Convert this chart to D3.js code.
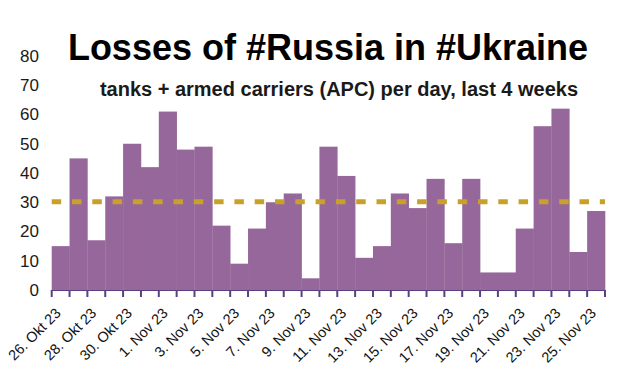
<!DOCTYPE html>
<html>
<head>
<meta charset="utf-8">
<script src="https://cdn.jsdelivr.net/npm/d3@7"></script>
<style>
  body { margin: 0; background: #fff; }
  text { font-family: "Liberation Sans", Arial, sans-serif; }
</style>
</head>
<body>
<div id="chart"></div>
<script>
// days, 26 Okt 23 .. 25 Nov 23
const days = [
  '26. Okt 23', '27. Okt 23', '28. Okt 23', '29. Okt 23', '30. Okt 23', '31. Okt 23',
  '1. Nov 23', '2. Nov 23', '3. Nov 23', '4. Nov 23', '5. Nov 23', '6. Nov 23',
  '7. Nov 23', '8. Nov 23', '9. Nov 23', '10. Nov 23', '11. Nov 23', '12. Nov 23',
  '13. Nov 23', '14. Nov 23', '15. Nov 23', '16. Nov 23', '17. Nov 23', '18. Nov 23',
  '19. Nov 23', '20. Nov 23', '21. Nov 23', '22. Nov 23', '23. Nov 23', '24. Nov 23',
  '25. Nov 23'
]
// tanks + APC lost per day
const losses = [
  15, 45, 17, 32, 50, 42, 61, 48, 49, 22, 9, 21, 30, 33, 4,
  49, 39, 11, 15, 33, 28, 38, 16, 38, 6, 6, 21, 56, 62, 13, 27
]
const yTicks = [0, 10, 20, 30, 40, 50, 60, 70, 80]

const width = 617,
  height = 374
const data = days.map((d, i) => ({ day: d, value: losses[i] }))

const svg = d3.select('#chart').append('svg').attr('width', width).attr('height', height)

const x = d3.scaleBand().domain(days).range([51.7, 605]).padding(0)
const y = d3.scaleLinear().domain([0, 80]).range([290, 56])

// bars
svg
  .append('g')
  .selectAll('rect')
  .data(data)
  .enter()
  .append('rect')
  .attr('x', d => x(d.day))
  .attr('y', d => y(d.value))
  .attr('width', x.bandwidth() + 0.3)
  .attr('height', d => y(0) - y(d.value))
  .attr('fill', '#96679a')

// average line
const avg = d3.mean(losses)
svg
  .append('line')
  .attr('x1', x.range()[0])
  .attr('x2', x.range()[1])
  .attr('y1', y(avg))
  .attr('y2', y(avg))
  .attr('stroke', '#c9a02a')
  .attr('stroke-width', 5)
  .attr('stroke-dasharray', '9.5,10.8')

// y axis, labels only
const yAxis = svg
  .append('g')
  .attr('transform', 'translate(39,0)')
  .call(d3.axisLeft(y).tickValues(yTicks).tickSize(0).tickPadding(0))
yAxis.select('.domain').remove()
yAxis.selectAll('text').attr('font-size', 17).attr('fill', '#1a1a1a').attr('font-family', '"Liberation Sans", Arial, sans-serif')

// x axis: ticks on day boundaries
const xAxis = svg.append('g')
const edges = days.map(d => x(d)).concat([x.range()[1]])
xAxis
  .append('line')
  .attr('x1', x.range()[0])
  .attr('x2', x.range()[1])
  .attr('y1', y(0) + 0.5)
  .attr('y2', y(0) + 0.5)
  .attr('stroke', '#5b3f80')
  .attr('stroke-width', 1)
xAxis
  .selectAll('.tick')
  .data(edges)
  .enter()
  .append('line')
  .attr('x1', d => d)
  .attr('x2', d => d)
  .attr('y1', y(0))
  .attr('y2', y(0) + 7)
  .attr('stroke', '#5b3f80')
  .attr('stroke-width', 2)

xAxis
  .selectAll('.lbl')
  .data(days.filter((d, i) => i % 2 === 0))
  .enter()
  .append('text')
  .attr('transform', d => `translate(${x(d) + x.bandwidth() / 2 + 1},${y(0) + 24}) rotate(-45)`)
  .attr('text-anchor', 'end')
  .attr('font-size', 14.5)
  .attr('fill', '#111')
  .text(d => d)

// titles
svg
  .append('text')
  .attr('x', 328)
  .attr('y', 60)
  .attr('text-anchor', 'middle')
  .attr('font-size', 36)
  .attr('font-weight', 'bold')
  .attr('fill', '#000')
  .text('Losses of #Russia in #Ukraine')

svg
  .append('text')
  .attr('x', 339)
  .attr('y', 96)
  .attr('text-anchor', 'middle')
  .attr('font-size', 20)
  .attr('font-weight', 'bold')
  .attr('fill', '#1a1a1a')
  .text('tanks + armed carriers (APC) per day, last 4 weeks')
</script>
</body>
</html>
